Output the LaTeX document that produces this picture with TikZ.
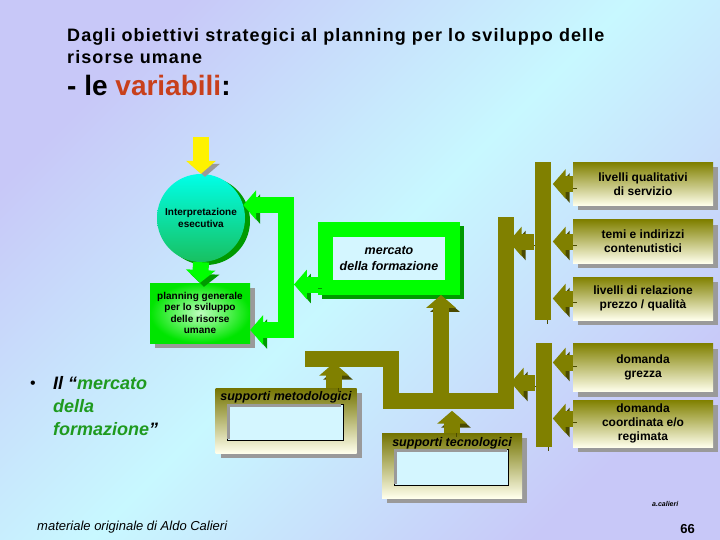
\documentclass[tikz,border=0pt]{standalone}
\usepackage{fontspec}
\setmainfont{Liberation Sans}
\usepackage{tikz}
\usetikzlibrary{arrows.meta,calc}
\tikzset{>={Triangle[width=0pt 1.8,length=0pt 0.8]}}

\definecolor{bglav}{HTML}{C8C8F8}
\definecolor{bgcyan}{HTML}{C8F8FF}
\definecolor{gbright}{HTML}{00FF00}
\definecolor{gdark}{HTML}{009A00}
\definecolor{circtop}{HTML}{00FFE8}
\definecolor{circbot}{HTML}{18C060}
\definecolor{oliv}{HTML}{808000}
\definecolor{olivdark}{HTML}{4A4A00}
\definecolor{cream}{HTML}{FFFFEC}
\definecolor{varred}{HTML}{C8401C}
\definecolor{txtgreen}{HTML}{1F9A1F}
\definecolor{boxshadow}{HTML}{9A9A9A}
\definecolor{innerbg}{HTML}{D4F6FF}

\begin{document}
\begin{tikzpicture}[x=1pt,y=-1pt]
      \tikzstyle{garrow}=[draw=gbright,line width=16pt,->,preaction={draw=gdark,transform canvas={shift={(4,4)}}}]
      \tikzstyle{oarrow}=[draw=oliv,line width=16pt,->,preaction={draw=olivdark,transform canvas={shift={(4,4)}}}]
      \tikzstyle{obus}=[draw=oliv,line width=16pt,preaction={draw=olivdark,transform canvas={shift={(4,4)}}}]
      \tikzstyle{rbox}=[rectangle,minimum width=140pt,minimum height=43pt,inner sep=1pt,align=center,font=\bfseries\fontsize{12}{14}\selectfont,top color=oliv,bottom color=cream,preaction={fill=boxshadow,transform canvas={shift={(5,5)}}}]
      \tikzstyle{sbox}=[rectangle,minimum width=141pt,minimum height=65pt,top color=oliv!90!black,bottom color=cream,preaction={fill=boxshadow,transform canvas={shift={(5,5)}}}]
      \tikzstyle{slabel}=[inner sep=0pt,font=\bfseries\itshape\fontsize{12.5}{14}\selectfont]

      \useasboundingbox (0,0) rectangle (720,540);
      \shade[top color=bglav,bottom color=bglav,middle color=bgcyan,shading angle=45] (0,0) rectangle (720,540);

      \node[anchor=north west,inner sep=0pt,align=left,font=\bfseries\fontsize{18}{22.5}\selectfont\addfontfeatures{LetterSpace=6}] (title) at (67,28) {Dagli obiettivi strategici al planning per lo sviluppo delle\\risorse umane};
      \node[anchor=base west,inner sep=0pt,font=\bfseries\fontsize{28}{30}\selectfont] (sub) at (67,96) {- le \textcolor{varred}{variabili}:};

      \node[circle,minimum size=88pt,inner sep=0pt,align=center,font=\bfseries\fontsize{10}{11.5}\selectfont,top color=circtop,bottom color=circbot,preaction={fill=gdark,transform canvas={shift={(5,3)}}}] (interp) at (201,218) {Interpretazione\\esecutiva};
      \node[rectangle,minimum width=100pt,minimum height=60pt,inner sep=1pt,align=center,font=\bfseries\fontsize{10}{11.3}\selectfont,inner color=green!25!white,outer color=green!90!black,preaction={fill=boxshadow,transform canvas={shift={(5,5)}}}] (plan) at (200,313) {planning generale\\per lo sviluppo\\delle risorse\\umane};
      \node[draw=gbright,line width=15pt,fill=innerbg,minimum width=127pt,minimum height=58pt,inner sep=0pt,align=center,font=\bfseries\itshape\fontsize{12.5}{16}\selectfont,preaction={draw=gdark,transform canvas={shift={(4,4)}}}] (merc) at (389,258.5) {mercato\\della formazione};

      \node[rbox] (box1) at (643,184) {livelli qualitativi\\di servizio};
      \node[rbox] (box2) at (643,241.5) {temi e indirizzi\\contenutistici};
      \node[rbox] (box3) at (643,298.5) {livelli di relazione\\prezzo / qualità};
      \node[rbox,minimum height=48pt] (box4) at (643,367.5) {domanda\\grezza};
      \node[rbox,minimum height=47pt] (box5) at (643,423.5) {domanda\\coordinata e/o\\regimata};

      \node[sbox] (metod) at (286,420.5) {};
      \draw[fill=innerbg] ([shift={(12,16)}]metod.north west) rectangle ([shift={(-14,-13)}]metod.south east);
      \draw[boxshadow,line width=3pt] ([shift={(13.5,-14.5)}]metod.south west) |- ([shift={(-15.5,17.5)}]metod.north east);
      \node[slabel,anchor=base] (metodlbl) at ($(metod.north)+(0,13)$) {supporti metodologici};
      \node[sbox,minimum width=140pt] (tecno) at (452,465.5) {};
      \draw[fill=innerbg] ([shift={(12,16)}]tecno.north west) rectangle ([shift={(-14,-13)}]tecno.south east);
      \draw[boxshadow,line width=3pt] ([shift={(13.5,-14.5)}]tecno.south west) |- ([shift={(-15.5,17.5)}]tecno.north east);
      \node[slabel,anchor=base] (tecnolbl) at ($(tecno.north)+(0,14)$) {supporti tecnologici};

      \coordinate (ytop) at (201,137);
      \draw[draw=yellow,line width=16pt,->,preaction={draw=boxshadow,transform canvas={shift={(4,3)}}}] (ytop) -- (interp.north);
      \draw[garrow] (interp.south) -- (plan.north);
      \draw[garrow,<->] (interp.17) -- ++(43,0) |- ($(plan.east)+(0,17)$);
      \draw[garrow] ($(merc.west)+(0,26)$) -- ++(-24,0);

      \coordinate (ol) at (305,359);
      \coordinate (ob) at (441,401);
      \coordinate (ot) at (506,217);
      \draw[oarrow] (ob) -- (ob |- merc.south);
      \draw[oarrow] ([xshift=-39pt]box2.west) -- ++(-25,0);
      \draw[oarrow] ([xshift=-38pt,yshift=-15pt]box4.west) -- ++(-24,0);
      \draw[obus] (ol) -- (391,359) -- (391,401) -- (506,401) -- (ot);
      \draw[obus] ([xshift=-30pt]box1.north west) -- ([xshift=-30pt]box3.south west);
      \draw[obus] ([xshift=-29pt]box4.north west) -- ([xshift=-29pt]box5.south west);
      \draw[oarrow] (box1.west) -- ++(-20,0);
      \draw[oarrow] (box2.west) -- ++(-20,0);
      \draw[oarrow] (box3.west) -- ++(-20,0);
      \draw[oarrow] ([yshift=5pt]box4.west) -- ++(-20,0);
      \draw[oarrow] ([yshift=5pt]box5.west) -- ++(-20,0);
      \draw[oarrow] ([xshift=48pt]metod.north) -- ++(0,-25);
      \draw[oarrow] (tecno.north) -- ++(0,-22);

      \node[anchor=base,inner sep=0pt,font=\fontsize{16}{18}\selectfont] (bullet) at (33,388) {\textbullet};
      \node[anchor=north west,inner sep=0pt,align=left,font=\bfseries\itshape\fontsize{18}{23}\selectfont] (bultxt) at (53,376) {Il “\textcolor{txtgreen}{mercato}\\\textcolor{txtgreen}{della}\\\textcolor{txtgreen}{formazione}”};

      \node[anchor=base west,inner sep=0pt,font=\itshape\fontsize{13}{15}\selectfont] (foot) at (37,530) {materiale originale di Aldo Calieri};
      \node[anchor=base west,inner sep=0pt,font=\bfseries\itshape\fontsize{7}{8}\selectfont] (sign) at (652,506) {a.calieri};
      \node[anchor=base east,inner sep=0pt,font=\bfseries\fontsize{13}{15}\selectfont] (pagenum) at (695,533) {66};
    \end{tikzpicture}
\end{document}
